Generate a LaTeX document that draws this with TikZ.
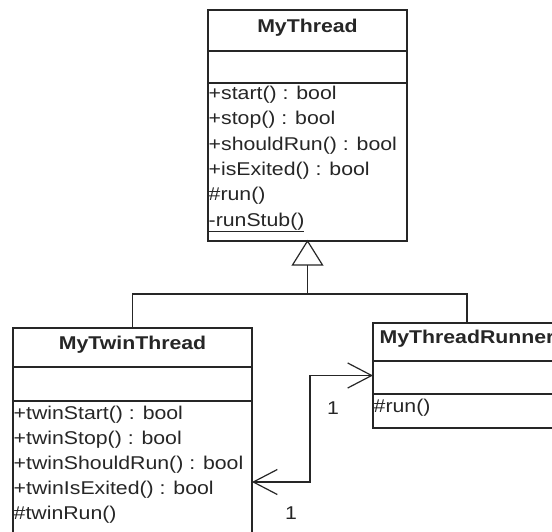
\documentclass[tikz,border=0pt]{standalone}
\usepackage{fontspec}
\newfontfamily\umlfont[FakeStretch=1.15]{Liberation Sans}
\usetikzlibrary{arrows.meta}
\begin{document}
\begin{tikzpicture}[x=1pt,y=-1pt,
  line/.style={line width=1.2pt, draw=black!85},
  classbox/.style={line, rectangle, anchor=north west, inner sep=0, outer sep=0},
  titletext/.style={font=\umlfont\bfseries\fontsize{18.5}{22}\selectfont, inner sep=0, text height=0.73em, text depth=0.21em, text=black!85},
  op/.style={font=\umlfont\fontsize{18.5}{22}\selectfont, anchor=west, inner sep=0, text height=0.73em, text depth=0.21em, text=black!85},
  mult/.style={op, anchor=center},
  barb/.tip={Straight Barb[length=24pt,width=25pt,line width=1.2pt]},
  assoc/.style={line, barb-barb}
]
\clip (0,0) rectangle (552,531);
\fill[white] (0,0) rectangle (552,531);

% MyThread
\node[classbox, minimum width=199pt, minimum height=231pt] (mythread) at (208,10) {};
\draw[line] ([yshift=-41pt]mythread.north west) -- ([yshift=-41pt]mythread.north east);
\draw[line] ([yshift=-73pt]mythread.north west) -- ([yshift=-73pt]mythread.north east);
\node[titletext] (t1) at (307.5,29.5) {MyThread};
\node[op] (m1) at (208.5,97) {+start() : bool};
\node[op] (m2) at (208.5,122.3) {+stop() : bool};
\node[op] (m3) at (208.5,147.6) {+shouldRun() : bool};
\node[op] (m4) at (208.5,172.9) {+isExited() : bool};
\node[op] (m5) at (208.5,198.2) {\#run()};
\node[op] (m6) at (208.5,223.5) {\underline{-runStub()}};

% MyTwinThread
\node[classbox, minimum width=239pt, minimum height=230pt] (twin) at (13,328) {};
\draw[line] ([yshift=-39pt]twin.north west) -- ([yshift=-39pt]twin.north east);
\draw[line] ([yshift=-73pt]twin.north west) -- ([yshift=-73pt]twin.north east);
\node[titletext] (t2) at (132.5,347) {MyTwinThread};
\node[op] (w1) at (13.5,416.5) {+twinStart() : bool};
\node[op] (w2) at (13.5,441.7) {+twinStop() : bool};
\node[op] (w3) at (13.5,466.9) {+twinShouldRun() : bool};
\node[op] (w4) at (13.5,492.1) {+twinIsExited() : bool};
\node[op] (w5) at (13.5,517.3) {\#twinRun()};

% MyThreadRunner
\node[classbox, minimum width=188pt, minimum height=105pt] (runner) at (373,323) {};
\draw[line] ([yshift=-38pt]runner.north west) -- ([yshift=-38pt]runner.north east);
\draw[line] ([yshift=-71pt]runner.north west) -- ([yshift=-71pt]runner.north east);
\node[titletext] (t3) at (467,341) {MyThreadRunner};
\node[op] (r1) at (373.5,410) {\#run()};

% generalization
\coordinate (tribase) at ([yshift=-24pt]mythread.south);
\coordinate (junction) at (307.5,294);
\draw[line, fill=white] (mythread.south) -- ([xshift=-15pt]tribase) -- ([xshift=15pt]tribase) -- cycle;
\draw[line] (tribase) -- (junction);
\draw[line] (twin.north) |- (junction) -| (runner.north);

% association
\coordinate (twinend) at ([yshift=-154pt]twin.north east);
\draw[assoc] (runner.west) -- ++(-63,0) |- (twinend);
\node[mult] (mult1) at (333,412) {1};
\node[mult] (mult2) at (291,517) {1};
\end{tikzpicture}
\end{document}
